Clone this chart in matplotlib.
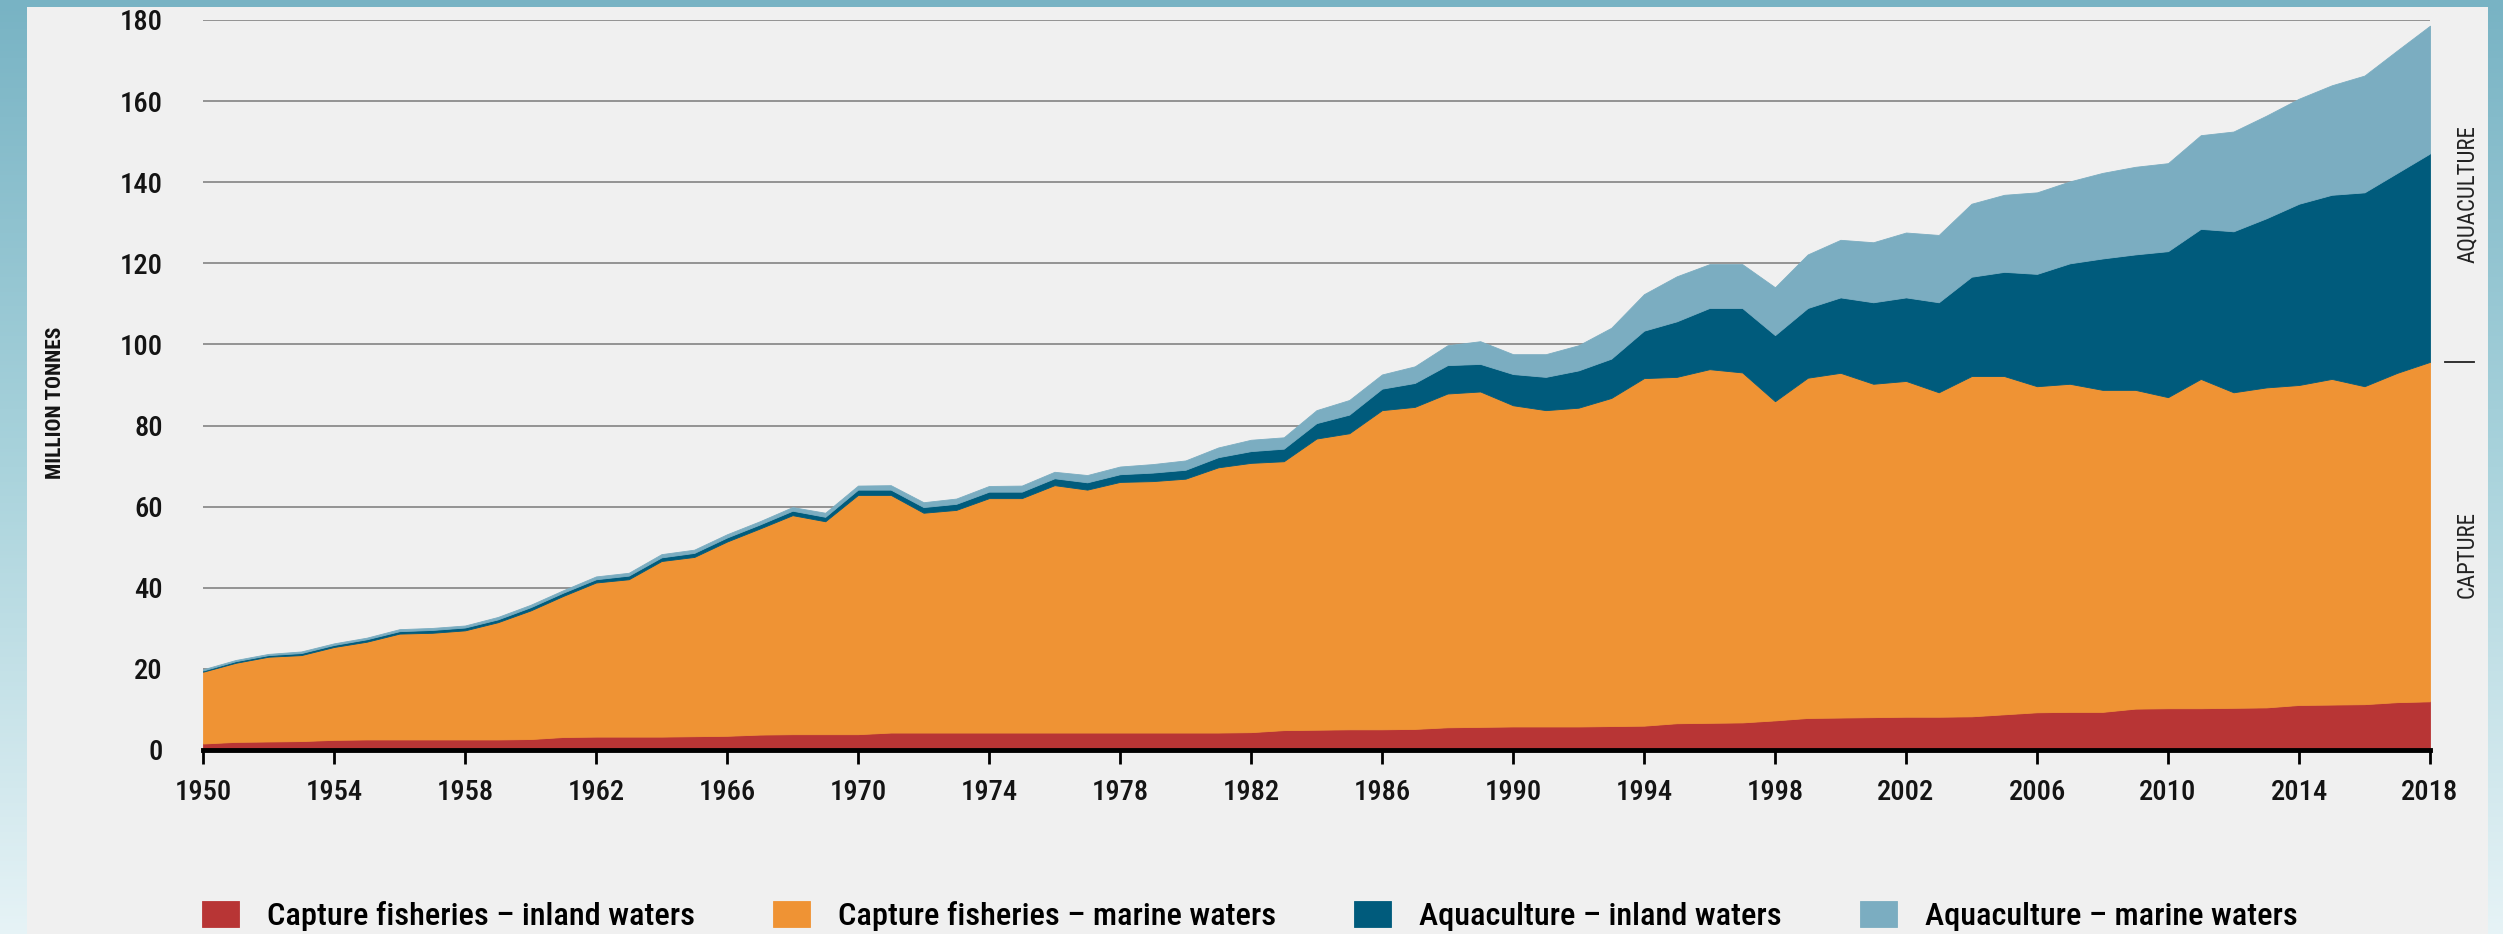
import os
import matplotlib.pyplot as plt
import numpy as np
from matplotlib import font_manager
from matplotlib.colors import LinearSegmentedColormap
from matplotlib.patches import Rectangle

# world fisheries and aquaculture production, million tonnes
years = np.arange(1950, 2019)
capture_inland = [
    1.6, 2.0, 2.1, 2.2, 2.5, 2.6, 2.6, 2.6, 2.6, 2.6,
    2.7, 3.2, 3.3, 3.3, 3.3, 3.4, 3.5, 3.8, 3.9, 3.9,
    3.9, 4.3, 4.3, 4.3, 4.3, 4.3, 4.3, 4.3, 4.3, 4.3,
    4.3, 4.3, 4.4, 4.9, 5.0, 5.1, 5.1, 5.2, 5.6, 5.7,
    5.8, 5.8, 5.8, 5.9, 6.0, 6.6, 6.7, 6.8, 7.3, 7.9,
    8.0, 8.1, 8.2, 8.2, 8.3, 8.8, 9.3, 9.4, 9.4, 10.2,
    10.3, 10.3, 10.4, 10.5, 11.1, 11.2, 11.3, 11.8, 12.0,
]
capture_marine = [
    17.7, 19.5, 20.9, 21.2, 22.9, 24.1, 26.1, 26.3, 26.9, 28.9,
    31.7, 34.8, 38.0, 38.8, 43.3, 44.2, 47.9, 50.8, 54.0, 52.5,
    59.0, 58.6, 54.2, 54.9, 57.8, 57.8, 61.0, 59.9, 61.8, 62.0,
    62.6, 65.4, 66.4, 66.3, 71.8, 73.0, 78.7, 79.4, 82.3, 82.7,
    79.2, 78.0, 78.6, 80.9, 85.7, 85.4, 87.2, 86.3, 78.7, 83.9,
    85.0, 82.2, 82.8, 80.0, 83.9, 83.4, 80.4, 80.9, 79.4, 78.6,
    76.7, 81.2, 77.8, 78.9, 78.9, 80.3, 78.4, 81.2, 83.7,
]
aqua_inland = [
    0.3, 0.4, 0.4, 0.5, 0.5, 0.6, 0.6, 0.7, 0.7, 0.7,
    0.8, 0.8, 0.8, 0.9, 0.9, 1.0, 1.0, 1.0, 1.1, 1.1,
    1.3, 1.3, 1.4, 1.5, 1.6, 1.6, 1.7, 1.8, 1.9, 2.1,
    2.2, 2.5, 2.9, 3.1, 3.8, 4.6, 5.3, 5.9, 7.0, 6.8,
    7.7, 8.2, 9.2, 9.7, 11.7, 13.7, 15.1, 15.9, 16.3, 17.2,
    18.6, 20.1, 20.6, 22.2, 24.5, 25.7, 27.7, 29.7, 32.4, 33.4,
    36.0, 37.0, 39.7, 41.7, 44.7, 45.4, 47.8, 49.3, 51.4,
]
aqua_marine = [
    0.3, 0.3, 0.3, 0.4, 0.4, 0.4, 0.5, 0.5, 0.5, 0.6,
    0.6, 0.6, 0.7, 0.7, 0.8, 0.8, 0.8, 0.8, 0.9, 1.0,
    1.0, 1.1, 1.2, 1.3, 1.4, 1.5, 1.6, 1.8, 1.9, 2.1,
    2.3, 2.4, 2.8, 2.8, 3.2, 3.6, 3.5, 4.1, 4.9, 5.6,
    4.9, 5.6, 6.2, 7.6, 9.0, 11.1, 10.8, 10.8, 11.8, 13.2,
    14.2, 14.8, 16.0, 16.6, 18.0, 19.0, 20.1, 20.2, 21.1, 21.6,
    21.7, 23.1, 24.6, 25.3, 25.9, 27.0, 28.8, 30.2, 31.5,
]

labels = [
    "Capture fisheries \u2013 inland waters",
    "Capture fisheries \u2013 marine waters",
    "Aquaculture \u2013 inland waters",
    "Aquaculture \u2013 marine waters",
]
colors = ["#b83535", "#ef9334", "#005b7c", "#7badc1"]
xticks = list(range(1950, 2019, 4))
yticks = list(range(0, 181, 20))

W, H = 2503, 934
PX = 100 / 72  # pixels per point


def weight_of(f):
    if isinstance(f.weight, (int, float)):
        return f.weight
    return font_manager.weight_dict.get(f.weight, 400)


def narrow_font(target=400):
    # look for a narrow / condensed face, the chart uses a condensed type
    prefs = ['liberation sans narrow', 'roboto condensed', 'noto sans', 'open sans',
             'dejavu sans', 'lato', 'inter']
    best = None
    for f in font_manager.fontManager.ttflist:
        tag = (f.name + ' ' + str(f.stretch) + ' ' + os.path.basename(f.fname)).lower()
        if not ('narrow' in tag or 'condensed' in tag):
            continue
        if any(k in tag for k in ('extra', 'ultra', 'semi', 'italic', 'oblique')):
            continue
        if f.style != 'normal':
            continue
        name = f.name.lower()
        rank = next((i for i, p in enumerate(prefs) if name.startswith(p)), len(prefs))
        key = (rank, abs(weight_of(f) - target))
        if best is None or key < best[0]:
            best = (key, f)
    if best is not None:
        return font_manager.FontProperties(fname=best[1].fname)
    return font_manager.FontProperties(family='Roboto', weight=target)


fig = plt.figure(figsize=(W / 100, H / 100), dpi=100)
renderer = fig.canvas.get_renderer()


def fitted(prop, text, width_px, max_size):
    # font size that gives the text the width it has in the chart
    t = fig.text(0, 0, text, fontproperties=prop, fontsize=20)
    w = t.get_window_extent(renderer).width
    t.remove()
    p = prop.copy()
    p.set_size(min(max_size, 20 * width_px / w))
    return p


medium = narrow_font(500)
reg = narrow_font(400)
bold = narrow_font(700)
tick_prop = fitted(medium, "1950", 57, 27)
legend_prop = fitted(medium, labels[0], 428, 27)
side_prop = fitted(reg, "AQUACULTURE", 138, 30)
unit_prop = fitted(bold, "MILLION TONNES", 152, 20)

# blue gradient frame with light grey panel
bg = fig.add_axes([0, 0, 1, 1], zorder=-10)
bg.set_axis_off()
edge_cmap = LinearSegmentedColormap.from_list('edge', ['#78b3c4', '#a9d3dc', '#e6f3f6'])
bg.imshow(np.linspace(0, 1, 256).reshape(-1, 1), aspect='auto', cmap=edge_cmap,
          extent=[0, 1, 0, 1])
bg.add_patch(Rectangle((27 / W, 0), (2488 - 27) / W, 1 - 7 / H,
                       transform=bg.transAxes, color='#f0f0f0', lw=0))

ax = fig.add_axes([203 / W, 1 - 750 / H, (2430 - 203) / W, (750 - 20) / H])
ax.patch.set_alpha(0)

polys = ax.stackplot(years, capture_inland, capture_marine, aqua_inland, aqua_marine,
                     colors=colors, labels=labels, linewidth=0.6)
for p, c in zip(polys, colors):
    p.set_edgecolor(c)

ax.set_xlim(1950, 2018)
ax.set_ylim(0, 180)
ax.set_xticks(xticks, labels=[str(x) for x in xticks], fontproperties=tick_prop,
              color='#141414')
ax.set_yticks(yticks, labels=[str(y) for y in yticks], fontproperties=tick_prop,
              color='#141414')
ax.yaxis.grid(True, color='#7a7a7a', lw=1.1)
ax.set_axisbelow(True)

for s in ['left', 'top', 'right']:
    ax.spines[s].set_visible(False)
ax.spines['bottom'].set_linewidth(3.5)
ax.spines['bottom'].set_color('black')

ax.tick_params(axis='y', length=0, pad=29)
ax.tick_params(axis='x', length=10, width=2, pad=11, color='black')

fig.text(56 / W, 1 - 403 / H, 'MILLION TONNES', rotation=90, fontproperties=unit_prop,
         ha='center', va='center', color='#141414')

fig.text(2467 / W, 1 - 194 / H, 'AQUACULTURE', rotation=90, fontproperties=side_prop,
         ha='center', va='center', color='#222222')
fig.text(2467 / W, 1 - 554 / H, 'CAPTURE', rotation=90, fontproperties=side_prop,
         ha='center', va='center', color='#222222')
capture_2018 = capture_inland[-1] + capture_marine[-1]
ax.plot([2018.45, 2019.35], [capture_2018, capture_2018], color='#222222', lw=1.3,
        clip_on=False)

fs_px = legend_prop.get_size_in_points() * PX
ax.legend(loc='center left', bbox_to_anchor=(202 / W, 1 - 916 / H),
          bbox_transform=fig.transFigure, ncol=4, frameon=False, prop=legend_prop,
          handlelength=37 / fs_px, handleheight=28 / fs_px, handletextpad=28 / fs_px,
          columnspacing=78 / fs_px, borderpad=0, borderaxespad=0)

fig.savefig('out.png', dpi=100)
